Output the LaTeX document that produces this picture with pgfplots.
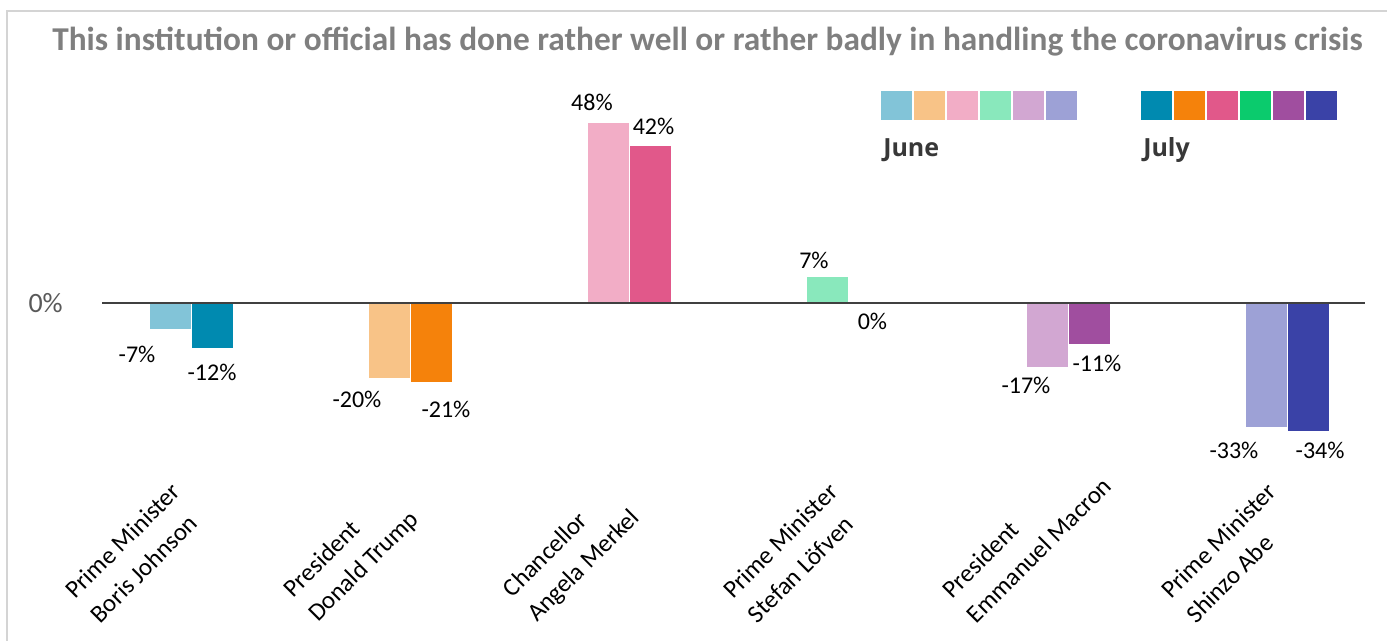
\documentclass[border=0pt]{standalone}
\usepackage{fontspec}
\setmainfont{Carlito}
\newfontfamily\legfont{Open Sans}
\usepackage{pgfplots}
\pgfplotsset{compat=1.18}
\usepackage{pgfplotstable}

\definecolor{jA}{HTML}{82C4D8}
\definecolor{jB}{HTML}{F8C387}
\definecolor{jC}{HTML}{F2ADC6}
\definecolor{jD}{HTML}{89E8BC}
\definecolor{jE}{HTML}{D2A7D2}
\definecolor{jF}{HTML}{9DA1D6}
\definecolor{uA}{HTML}{008AB0}
\definecolor{uB}{HTML}{F5820B}
\definecolor{uC}{HTML}{E1588A}
\definecolor{uD}{HTML}{0BCB6D}
\definecolor{uE}{HTML}{A04E9F}
\definecolor{uF}{HTML}{3A42A7}
\definecolor{titlegray}{HTML}{7F7F7F}
\definecolor{framegray}{HTML}{D4D4D4}

% label positions (x in category units, y in %)
\pgfplotstableread{
x y label
-0.246 -13.56 {-7\%}
0.096 -18.35 {-12\%}
0.757 -25.53 {-20\%}
1.163 -28.32 {-21\%}
1.829 53.32 {48\%}
2.110 47.07 {42\%}
2.842 11.30 {7\%}
3.109 -4.79 {0\%}
3.809 -21.81 {-17\%}
4.133 -15.96 {-11\%}
4.758 -39.23 {-33\%}
5.151 -39.23 {-34\%}
}\labeltable

\begin{document}
\begin{tikzpicture}
\path[use as bounding box] (0pt,0pt) rectangle (1040.25pt,-480.75pt);
\draw[framegray, line width=1.5pt] (5.25pt,-480.75pt) -- (5.25pt,-8.25pt) -- (1040.25pt,-8.25pt);
\node[anchor=base west, inner sep=0pt, text=titlegray, font=\fontsize{25}{30}\selectfont\bfseries] at (39pt,-38pt) {This institution or official has done rather well or rather badly in handling the coronavirus crisis};

\begin{axis}[
  at={(76.5pt,-367.5pt)}, anchor=south west,
  scale only axis, width=947.25pt, height=307.5pt,
  xmin=-0.406, xmax=5.356, ymin=-49.73, ymax=59.31,
  clip=false,
  axis line style={draw=none},
  major tick length=0pt,
  ytick={0}, yticklabels={0\%},
  yticklabel style={font=\fontsize{21}{25}\selectfont, text=black!65, anchor=east, inner sep=0pt, xshift=-29.25pt},
  xtick={0,1,2,3,4,5},
  xticklabels={{Prime Minister\\Boris Johnson},{President\\Donald Trump},{Chancellor\\Angela Merkel},{Prime Minister\\Stefan Löfven},{President\\Emmanuel Macron},{Prime Minister\\Shinzo Abe}},
  xticklabel style={font=\fontsize{18.75}{26}\selectfont, xshift=-82pt, yshift=-87pt, rotate=45, anchor=west, align=left, inner sep=0pt},
]
\addplot[ybar, bar width=0.1916, bar shift=-0.0958, fill=jA, draw=white, line width=0.4pt] coordinates {(0,-7)};
\addplot[ybar, bar width=0.1916, bar shift=0.0958, fill=uA, draw=white, line width=0.4pt] coordinates {(0,-12)};
\addplot[ybar, bar width=0.1916, bar shift=-0.0958, fill=jB, draw=white, line width=0.4pt] coordinates {(1,-20)};
\addplot[ybar, bar width=0.1916, bar shift=0.0958, fill=uB, draw=white, line width=0.4pt] coordinates {(1,-21)};
\addplot[ybar, bar width=0.1916, bar shift=-0.0958, fill=jC, draw=white, line width=0.4pt] coordinates {(2,48)};
\addplot[ybar, bar width=0.1916, bar shift=0.0958, fill=uC, draw=white, line width=0.4pt] coordinates {(2,42)};
\addplot[ybar, bar width=0.1916, bar shift=-0.0958, fill=jD, draw=white, line width=0.4pt] coordinates {(3,7)};
\addplot[ybar, bar width=0.1916, bar shift=0.0958, fill=uD, draw=none] coordinates {(3,0)};
\addplot[ybar, bar width=0.1916, bar shift=-0.0958, fill=jE, draw=white, line width=0.4pt] coordinates {(4,-17)};
\addplot[ybar, bar width=0.1916, bar shift=0.0958, fill=uE, draw=white, line width=0.4pt] coordinates {(4,-11)};
\addplot[ybar, bar width=0.1916, bar shift=-0.0958, fill=jF, draw=white, line width=0.4pt] coordinates {(5,-33)};
\addplot[ybar, bar width=0.1916, bar shift=0.0958, fill=uF, draw=white, line width=0.4pt] coordinates {(5,-34)};
\addplot[only marks, mark=none, nodes near coords, point meta=explicit symbolic,
  nodes near coords style={anchor=center, inner sep=0pt, font=\fontsize{18}{21.6}\selectfont, text=black}]
  table[x=x, y=y, meta=label] {\labeltable};
\draw[line width=1.5pt, black!75] (axis cs:-0.406,0) -- (axis cs:5.356,0);
\end{axis}

% legend swatches
\foreach \c [count=\i from 0] in {jA,jB,jC,jD,jE,jF} {
  \fill[\c] ({660.75pt+\i*24.75pt},-68.25pt) rectangle ++(23.25pt,-21.75pt);
}
\foreach \c [count=\i from 0] in {uA,uB,uC,uD,uE,uF} {
  \fill[\c] ({855.75pt+\i*24.75pt},-68.25pt) rectangle ++(23.25pt,-21.75pt);
}
\node[anchor=base west, inner sep=0pt, text=black!78, font=\legfont\fontsize{18.75}{22}\selectfont\bfseries] at (662.25pt,-117.75pt) {June};
\node[anchor=base west, inner sep=0pt, text=black!78, font=\legfont\fontsize{18.75}{22}\selectfont\bfseries] at (857.25pt,-117.75pt) {July};
\end{tikzpicture}
\end{document}
